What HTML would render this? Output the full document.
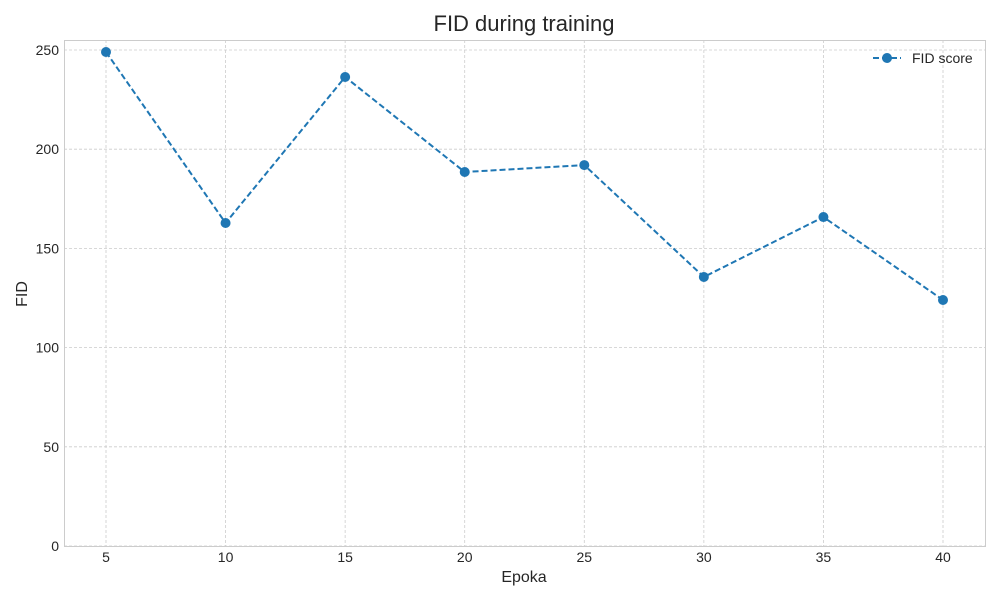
<!DOCTYPE html>
<html><head><meta charset="utf-8"><style>
body{margin:0;background:#fff;font-family:"Liberation Sans",sans-serif}
</style></head><body>
<svg width="1000" height="600" xmlns="http://www.w3.org/2000/svg" font-family="Liberation Sans, sans-serif">
<rect width="1000" height="600" fill="#fff"/>
<text x="524" y="31" font-size="22" text-anchor="middle" fill="#262626">FID during training</text>
<g id="grid"></g>
<rect x="64.5" y="40.5" width="921" height="506" fill="none" stroke="#cccccc"/>
<g id="ticks"></g>
<text x="524" y="582" font-size="16" text-anchor="middle" fill="#262626">Epoka</text>
<text x="27" y="294" font-size="16" text-anchor="middle" fill="#262626" transform="rotate(-90 27 294)">FID</text>
<g id="series"></g>
<g>
<line x1="873" y1="58" x2="901" y2="58" stroke="#1f77b4" stroke-width="2" stroke-dasharray="6,3"/>
<circle cx="887" cy="58" r="5" fill="#1f77b4"/>
<text x="912" y="63" font-size="14" fill="#262626">FID score</text>
</g>
</svg>
<script>
const epochs=[5,10,15,20,25,30,35,40];
const fid=[249,162.8,236.4,188.5,192,135.6,165.8,124];
const yTicks=[0,50,100,150,200,250];
const NS="http://www.w3.org/2000/svg";
const xs=v=>106+(v-5)*(943-106)/35;
const ys=v=>546-v*496/250;
function mk(t,a,p){const e=document.createElementNS(NS,t);for(const k in a)e.setAttribute(k,a[k]);p.appendChild(e);return e;}
const g=document.getElementById('grid'),tk=document.getElementById('ticks'),s=document.getElementById('series');
epochs.forEach(v=>{
const l=mk('line',{x1:xs(v),x2:xs(v),y1:40,y2:546,stroke:'#cccccc','stroke-dasharray':'3,2','stroke-width':0.8},g);


const t=mk('text',{x:xs(v),y:562,'font-size':14,'text-anchor':'middle',fill:'#262626'},tk);t.textContent=v;


});
yTicks.forEach(v=>{
const l=mk('line',{x1:64,x2:985,y1:ys(v),y2:ys(v),stroke:'#cccccc','stroke-dasharray':'3,2','stroke-width':0.8},g);


const t=mk('text',{x:59,y:ys(v)+5,'font-size':14,'text-anchor':'end',fill:'#262626'},tk);t.textContent=v;


});
const pl=mk('polyline',{points:epochs.map((e,i)=>xs(e)+','+ys(fid[i])).join(' '),fill:'none',stroke:'#1f77b4','stroke-width':2,'stroke-dasharray':'6,3'},s);


epochs.forEach((e,i)=>{
const c=mk('circle',{cx:xs(e),cy:ys(fid[i]),r:5,fill:'#1f77b4'},s);


});
</script>
</body></html>
